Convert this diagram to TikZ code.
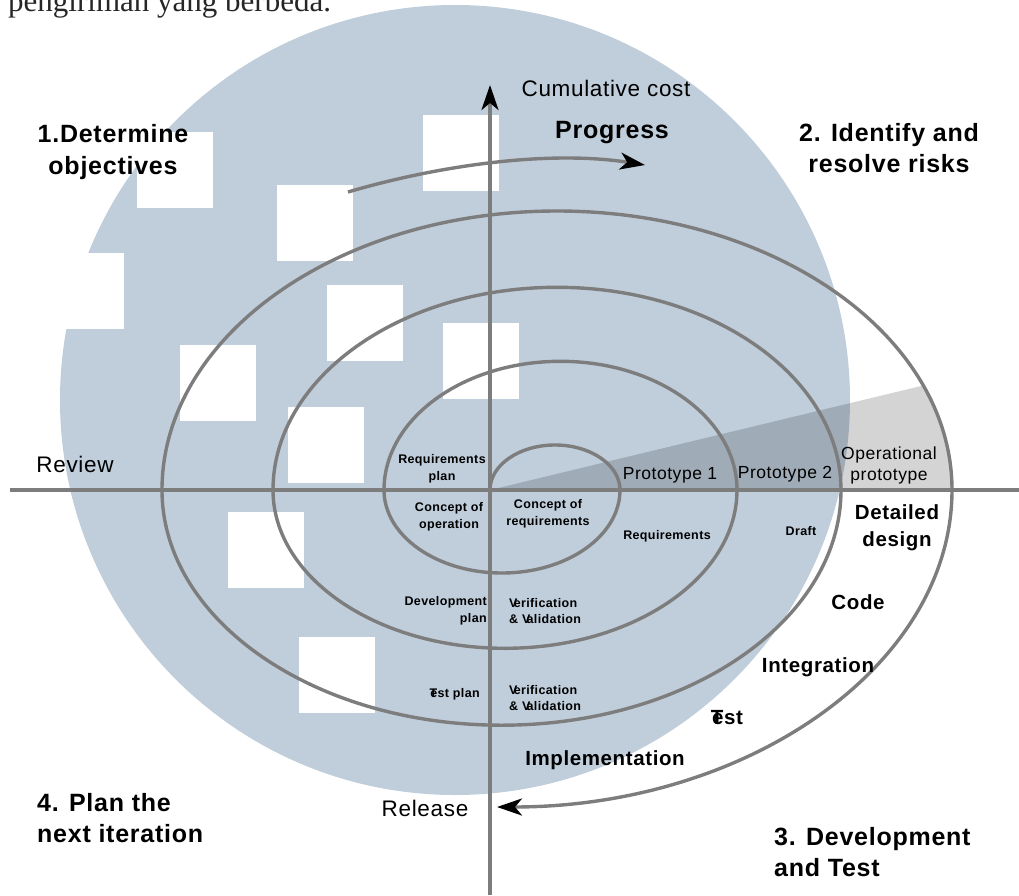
\documentclass[tikz,border=0pt]{standalone}
\usepackage{fontspec}
\setmainfont{Liberation Sans}[LetterSpace=3]
\newfontfamily\pageserif{Liberation Serif}
\usetikzlibrary{arrows.meta}

\definecolor{markblue}{RGB}{192,206,219}
\definecolor{linegray}{RGB}{125,125,125}

% glyphs that run into the next letter
\newcommand\Vk{V\kern-.3em}
\newcommand\Tk{T\kern-.55em}

\begin{document}
\begin{tikzpicture}[x=1pt,y=1pt,
  axis/.style={draw=linegray, line width=3.2pt},
  ring/.style={draw=linegray, line width=3.4pt},
  tip/.style={-{Stealth[length=25pt,width=17pt,inset=7pt,color=black]}},
  quad/.style={font=\fontsize{25}{31.5}\selectfont\bfseries, align=center, inner sep=0pt},
  stage/.style={font=\fontsize{12.5}{16.5}\selectfont\bfseries, align=center, inner sep=0pt},
  proto/.style={font=\fontsize{17.5}{21}\selectfont, align=center, inner sep=0pt},
  phase/.style={font=\fontsize{20.5}{27}\selectfont\bfseries, align=center, inner sep=0pt},
  plain/.style={font=\fontsize{22.5}{27}\selectfont, inner sep=0pt}]
  \useasboundingbox (-490,-405) rectangle (529,490);
  \clip (-490,-405) rectangle (529,490);

  % page text and mark behind the chart
  \node[anchor=base west, font=\pageserif\fontsize{31}{36}\selectfont,
    text=black!85, inner sep=0pt] (pagetext) at (-482,478) {pengiriman yang berbeda.};
  \fill[markblue] (-35,90) circle[radius=395];
  \foreach \x/\y in {-353/358, -213/305, -310/145, -163/205, -202/83,
                     -67/375, -47/167, -262/-22, -191/-147, -442/237}
    \fill[white] (\x,\y) rectangle ++(76,-76);

  % shaded prototype sector
  \fill[black, fill opacity=0.17] (0,0) -- (433.2,104.5)
    arc[start angle=22, end angle=0, x radius=395, y radius=279] -- cycle;

  % axes
  \draw[axis] (-480,0) -- (529,0);
  \draw[axis, tip] (0,-405) -- (0,405);

  % spiral, one half turn per arc
  \draw[ring, tip] (0,0)
    arc[start angle=180, end angle=0,   x radius=65,    y radius=45]
    arc[start angle=0,   end angle=-180, x radius=118,  y radius=83]
    arc[start angle=180, end angle=0,   x radius=176.5, y radius=128.7]
    arc[start angle=0,   end angle=-180, x radius=232,  y radius=158.3]
    arc[start angle=180, end angle=0,   x radius=284,   y radius=202.7]
    arc[start angle=0,   end angle=-180, x radius=339.5, y radius=235.2]
    arc[start angle=180, end angle=0,   x radius=395,   y radius=279]
    arc[start angle=0,   end angle=-90, x radius=455,   y radius=317];

  % progress arrow
  \draw[ring, tip] (-142,298) .. controls (-50,325) and (60,340) .. (155,325);

  \node[plain] (cumcost) at (116,402) {Cumulative cost};
  \node[font=\fontsize{25}{30}\selectfont\bfseries, inner sep=0pt] (progress) at (122,357) {Progress};

  % quadrant titles
  \node[quad] (determine) at (-377,338) {1.Determine\\objectives};
  \node[quad] (identify) at (399,342) {2. Identify and\\resolve risks};
  \node[quad, anchor=west, align=left] (plannext) at (-453,-328) {4. Plan the\\next iteration};
  \node[quad, anchor=west, align=left] (devtest) at (284,-362) {3. Development\\and Test};

  \node[plain] (review) at (-415,26) {Review};
  \node[plain] (release) at (-65,-318) {Release};

  % inner stages
  \node[stage] (reqplan) at (-48,21) {Requirements\\plan};
  \node[stage] (conceptop) at (-41,-27) {Concept of\\operation};
  \node[stage] (conceptreq) at (58,-24) {Concept of\\requirements};
  \node[stage] (reqs) at (177,-46) {Requirements};
  \node[stage] (draft) at (311,-41) {Draft};
  \node[stage, anchor=east, align=right] (devplan) at (-3,-121) {Development\\plan};
  \node[stage, anchor=west, align=left] (vvdev) at (19,-121) {\Vk erification\\\& \Vk alidation};
  \node[stage, anchor=east] (testplan) at (-10,-204) {\Tk est plan};
  \node[stage, anchor=west, align=left] (vvtest) at (19,-208) {\Vk erification\\\& \Vk alidation};

  % prototypes
  \node[proto] (proto1) at (180,15) {Prototype 1};
  \node[proto] (proto2) at (295,16) {Prototype 2};
  \node[proto] (opproto) at (399,25) {Operational\\prototype};

  % development steps
  \node[phase] (detailed) at (407,-38) {Detailed\\design};
  \node[phase] (code) at (368,-112) {Code};
  \node[phase] (integ) at (328,-177) {Integration};
  \node[phase] (test) at (237,-228) {\Tk est};
  \node[phase] (impl) at (115,-270) {Implementation};
\end{tikzpicture}
\end{document}
